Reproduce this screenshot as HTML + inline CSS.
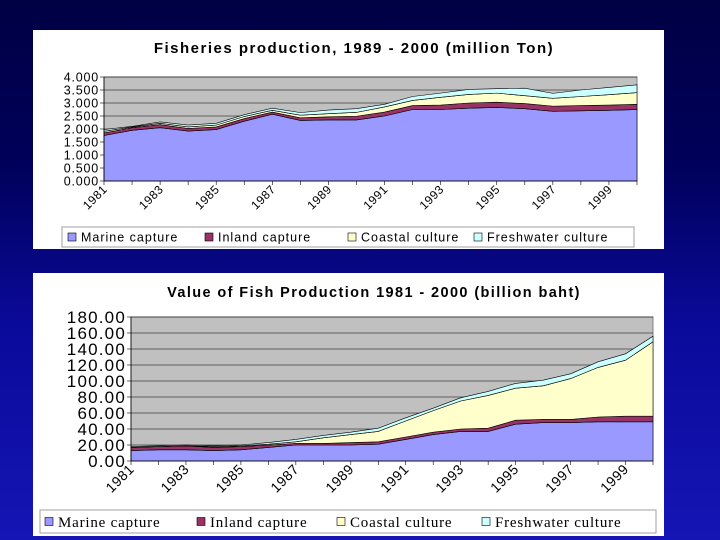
<!DOCTYPE html>
<html><head><meta charset="utf-8"><style>
html,body{margin:0;padding:0;}
body{width:720px;height:540px;overflow:hidden;background:linear-gradient(#000044 0%,#00005a 30%,#0a0a9a 60%,#1515b5 100%);position:relative;font-family:"Liberation Sans",sans-serif;}
.panel{position:absolute;left:33px;width:631px;background:#fff;}
svg{position:absolute;left:0;top:0;}
</style></head><body>
<div class="panel" style="top:30px;height:219px;"><svg id="c1" width="631" height="219"></svg></div>
<div class="panel" style="top:273px;height:263px;"><svg id="c2" width="631" height="263"></svg></div>
<script>
const years=[1981,1982,1983,1984,1985,1986,1987,1988,1989,1990,1991,1992,1993,1994,1995,1996,1997,1998,1999,2000];
const seriesNames=["Marine capture","Inland capture","Coastal culture","Freshwater culture"];
const colors=["#9999ff","#993366","#ffffcc","#ccffff"];
const prodMarine=[1.75,1.95,2.05,1.92,1.98,2.3,2.57,2.33,2.35,2.35,2.5,2.75,2.75,2.8,2.83,2.78,2.68,2.7,2.72,2.75];
const prodInland=[0.1,0.1,0.12,0.1,0.1,0.1,0.08,0.1,0.12,0.14,0.15,0.15,0.17,0.2,0.2,0.2,0.2,0.2,0.2,0.2];
const prodCoastal=[0.06,0.03,0.05,0.06,0.07,0.08,0.07,0.1,0.12,0.15,0.2,0.2,0.3,0.33,0.35,0.3,0.3,0.35,0.4,0.45];
const prodFresh=[0.07,0.02,0.05,0.07,0.07,0.07,0.08,0.1,0.14,0.14,0.1,0.15,0.16,0.19,0.17,0.29,0.19,0.25,0.28,0.3];
const prodTicks=["0.000","0.500","1.000","1.500","2.000","2.500","3.000","3.500","4.000"];
const valMarine=[13,14,14,13,14,17,20,20,20,21,27,33,37,37,46,48,48,49,49,49];
const valInland=[4,4,5,4,4,3,2,2,3,3,3,3,3,4,5,4,4,6,7,7];
const valCoastal=[0,0,0,1,1,1,2,7,10,13,20,27,35,41,40,42,51,62,70,93];
const valFresh=[1,1,1,1,1,2,3,3,3,4,4,3,4,5,6,7,6,7,8,7];
const valTicks=["0.00","20.00","40.00","60.00","80.00","100.00","120.00","140.00","160.00","180.00"];
const NS="http://www.w3.org/2000/svg";
function mk(p,t,a){const e=document.createElementNS(NS,t);for(const k in a)e.setAttribute(k,a[k]);p.appendChild(e);return e;}
function draw(svg,o){
  const {L,R,T,B,max,ticks,series,title,tfs,afs,xfs,lfs,lfont,lg}=o;
  const x=i=>L+(R-L)*i/(years.length-1), y=v=>B-(B-T)*v/max;
  const t=mk(svg,"text",{x:o.tx,y:o.ty,"text-anchor":"middle","font-size":tfs,"font-weight":"bold",fill:"#000","letter-spacing":o.tls});
  
  
  t.textContent=title;
  const bg=mk(svg,"rect",{x:L,y:T,width:R-L,height:B-T,fill:"#c0c0c0",stroke:"#808080"});
  
  
  ticks.forEach((lab,k)=>{const v=max*k/(ticks.length-1),yy=y(v);
    if(k>0){const g=mk(svg,"line",{x1:L,x2:R,y1:yy,y2:yy,stroke:"#000","stroke-width":0.6});
      
      }
    mk(svg,"line",{x1:L-4,x2:L,y1:yy,y2:yy,stroke:"#000","stroke-width":0.6});
    const tl=mk(svg,"text",{x:L-5,y:yy+afs*0.36,"text-anchor":"end","font-size":afs,fill:"#000","letter-spacing":o.als});
    
    
    tl.textContent=lab;});
  let base=years.map(()=>0);
  series.forEach((s,si)=>{const top=base.map((b,i)=>b+s[i]);
    let d="M"+years.map((_,i)=>x(i)+","+y(top[i])).join("L");
    for(let i=years.length-1;i>=0;i--)d+="L"+x(i)+","+y(base[i]);
    const p=mk(svg,"path",{d:d+"Z",fill:colors[si],stroke:"#000","stroke-width":0.6});
    
    
    base=top;});
  mk(svg,"line",{x1:L,x2:L,y1:T,y2:B,stroke:"#000","stroke-width":0.8});
  mk(svg,"line",{x1:L,x2:R,y1:B,y2:B,stroke:"#000","stroke-width":0.8});
  years.forEach((yr,i)=>{mk(svg,"line",{x1:x(i),x2:x(i),y1:B,y2:B+4,stroke:"#000","stroke-width":0.6});
    if(i%2==0){const xl=mk(svg,"text",{x:x(i)+4,y:B+9,"text-anchor":"end","font-size":xfs,fill:"#000","letter-spacing":0.5,transform:`rotate(-45 ${x(i)+4} ${B+9})`});
      
      
      xl.textContent=yr;}});
  const lb=mk(svg,"rect",{x:lg.x,y:lg.y,width:lg.w,height:lg.h,fill:"#fff",stroke:"#a0a0a0"});
  
  
  seriesNames.forEach((n,k)=>{const lx=lg.xs[k];
    const sw=mk(svg,"rect",{x:lx,y:lg.y+lg.h/2-4,width:8,height:8,fill:colors[k],stroke:"#000","stroke-width":0.6});
    
    
    const tx=mk(svg,"text",{x:lx+13,y:lg.y+lg.h/2+lfs*0.36,"font-size":lfs,fill:"#000","font-family":lfont,"letter-spacing":o.lls});
    
    
    tx.textContent=n;});
}
draw(document.getElementById("c1"),{L:71,R:604,T:47,B:151,max:4,ticks:prodTicks,series:[prodMarine,prodInland,prodCoastal,prodFresh],
  title:"Fisheries production, 1989 - 2000 (million Ton)",tx:321,ty:23,tfs:15,tls:1.5,afs:12.5,als:0.8,xfs:12,lfs:12.5,lls:1,lfont:"Liberation Sans",
  lg:{x:29,y:197,w:572,h:20,xs:[35,172,315,441]}});
draw(document.getElementById("c2"),{L:98,R:620,T:44,B:188,max:180,ticks:valTicks,series:[valMarine,valInland,valCoastal,valFresh],
  title:"Value of Fish Production 1981 - 2000 (billion baht)",tx:341,ty:24,tfs:14.5,tls:1.4,afs:17,als:1.2,xfs:14,lfs:15,lls:0.8,lfont:"Liberation Serif",
  lg:{x:7,y:237,w:616,h:23,xs:[12,164,304,449]}});
</script>
</body></html>
